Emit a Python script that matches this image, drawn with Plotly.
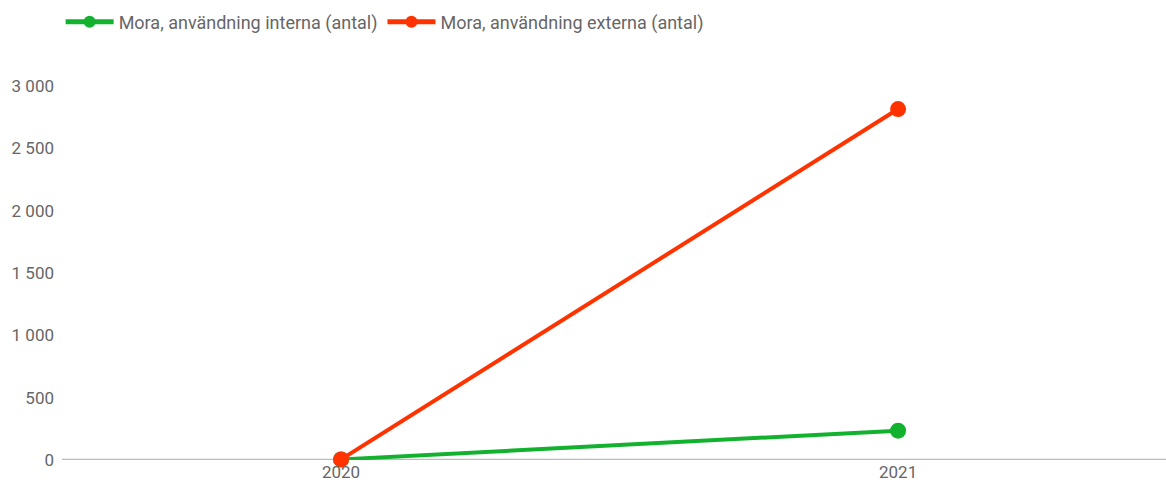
import plotly.graph_objects as go

years = ["2020", "2021"]
interna = [5, 235]
externa = [5, 2815]

green = "#12b22f"
red = "#ff3300"
txt = "#666666"

fig = go.Figure()
fig.add_trace(go.Scatter(x=years, y=interna, mode="lines+markers",
                         name="Mora, användning interna (antal)",
                         line=dict(color=green, width=4), cliponaxis=False,
                         marker=dict(color=green, size=16)))
fig.add_trace(go.Scatter(x=years, y=externa, mode="lines+markers",
                         name="Mora, användning externa (antal)",
                         line=dict(color=red, width=4), cliponaxis=False,
                         marker=dict(color=red, size=16)))

fig.update_layout(
    width=1166, height=484,
    margin=dict(l=62, r=0, t=86, b=24),
    paper_bgcolor="white", plot_bgcolor="white",
    font=dict(family="Roboto", size=18, color=txt),
    separators=", ",
    showlegend=True,
    legend=dict(orientation="h", xref="container", yref="container",
                x=0.052, y=1 - 22 / 484, xanchor="left", yanchor="middle",
                font=dict(size=18, color=txt), itemwidth=48,
                itemsizing="constant", traceorder="normal"),
    xaxis=dict(type="category", range=[-0.501, 1.481], showgrid=False,
               showline=False, zeroline=False, ticks="", automargin=False,
               ticklabelstandoff=0,
               tickfont=dict(size=17, color=txt)),
    yaxis=dict(range=[0, 3000], tickvals=[0, 500, 1000, 1500, 2000, 2500, 3000],
               tickformat=",d", showgrid=False, zeroline=False, showline=False,
               ticks="", ticklabelstandoff=7, automargin=False,
               tickfont=dict(size=17, color=txt)),
)
fig.add_shape(type="line", xref="paper", yref="y", x0=0, x1=1, y0=0, y1=0,
              line=dict(color="#bbbbbb", width=2.5), layer="below")

fig.write_html("out.html", config={"displayModeBar": False},
               post_script="document.body.style.margin='0';")
